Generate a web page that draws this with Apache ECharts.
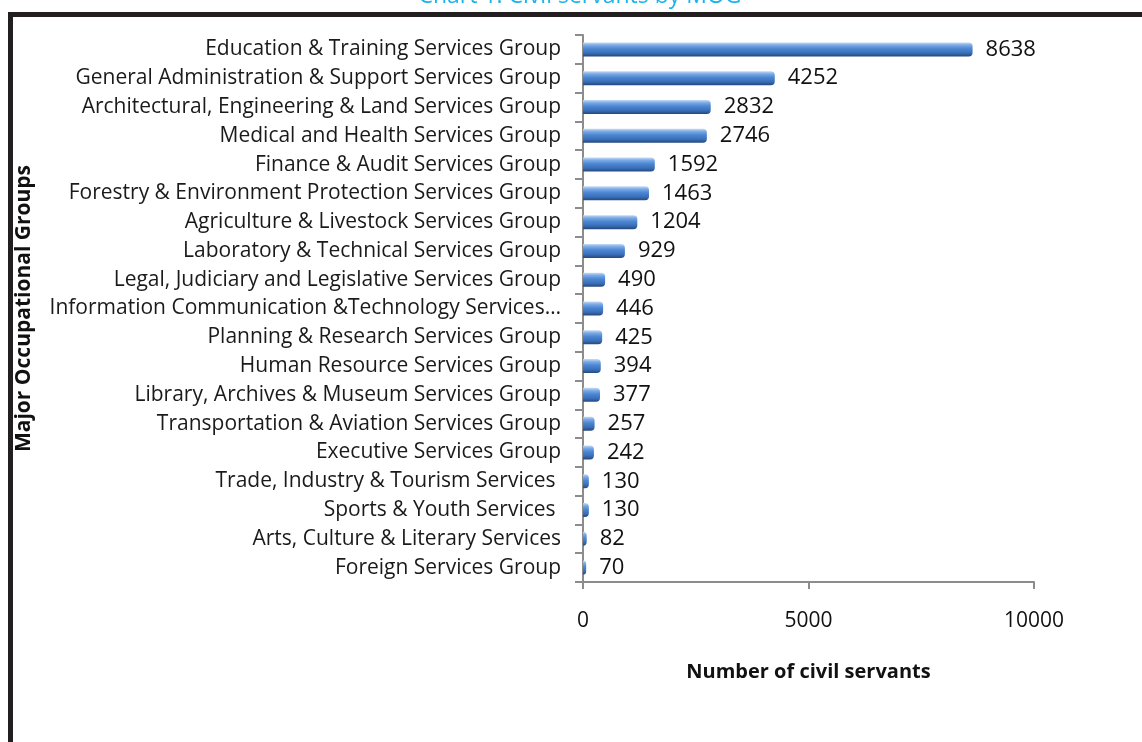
<!DOCTYPE html>
<html><head><meta charset="utf-8">
<script src="https://cdn.jsdelivr.net/npm/echarts@6/dist/echarts.min.js"></script>
<style>html,body{margin:0;padding:0;background:#fff}#c{width:1142px;height:742px}</style>
</head><body><div id="c"></div>
<script>
const categories = [
  "Education & Training Services Group",
  "General Administration & Support Services Group",
  "Architectural, Engineering & Land Services Group",
  "Medical and Health Services Group",
  "Finance & Audit Services Group",
  "Forestry & Environment Protection Services Group",
  "Agriculture & Livestock Services Group",
  "Laboratory & Technical Services Group",
  "Legal, Judiciary and Legislative Services Group",
  "Information Communication &Technology Services…",
  "Planning & Research Services Group",
  "Human Resource Services Group",
  "Library, Archives & Museum Services Group",
  "Transportation & Aviation Services Group",
  "Executive Services Group",
  "Trade, Industry & Tourism Services ",
  "Sports & Youth Services ",
  "Arts, Culture & Literary Services",
  "Foreign Services Group"
];
const values = [8638, 4252, 2832, 2746, 1592, 1463, 1204, 929, 490, 446, 425, 394, 377, 257, 242, 130, 130, 82, 70];
const xTicks = [0, 5000, 10000];
const titleText = "Chart 1: Civil servants by MOG";
const xName = "Number of civil servants";
const yName = "Major Occupational Groups";

const chart = echarts.init(document.getElementById('c'), null, {renderer: 'canvas'});
const font = "'Open Sans', 'Noto Sans', sans-serif";
chart.setOption({
  animation: false,
  backgroundColor: '#ffffff',
  title: {
    text: titleText, left: 575, top: -20, textAlign: 'center',
    textStyle: {color: '#1ab4ec', fontSize: 23, fontWeight: 'normal', fontFamily: font}
  },
  grid: {left: 583, top: 35, width: 451, height: 547, containLabel: false},
  xAxis: {
    type: 'value', min: 0, max: 10000, interval: 5000,
    name: xName, nameLocation: 'middle', nameGap: 80,
    nameTextStyle: {color: '#111', fontSize: 20, fontWeight: 'bold', fontFamily: font},
    axisLine: {show: true, lineStyle: {color: '#8c8c8c', width: 2}},
    axisTick: {show: true, inside: false, length: 7, lineStyle: {color: '#8c8c8c', width: 2}},
    axisLabel: {color: '#111', fontSize: 21, fontFamily: font, margin: 29,
      formatter: v => xTicks.includes(v) ? String(v) : ''},
    splitLine: {show: false}
  },
  yAxis: {
    type: 'category', data: categories, inverse: true,
    name: yName, nameLocation: 'middle', nameGap: 548, nameRotate: 90,
    nameTextStyle: {color: '#111', fontSize: 21, fontWeight: 'bold', fontFamily: font},
    axisLine: {show: true, lineStyle: {color: '#8c8c8c', width: 2}},
    axisTick: {show: true, length: 8, lineStyle: {color: '#8c8c8c', width: 2}},
    axisLabel: {color: '#1a1a1a', fontSize: 21, fontFamily: font, margin: 22}
  },
  series: [{
    type: 'bar', data: values, barWidth: 14,
    itemStyle: {
      borderRadius: [0, 4, 4, 0],
      color: new echarts.graphic.LinearGradient(0, 0, 0, 1, [
        {offset: 0, color: '#c6dbf5'},
        {offset: 0.2, color: '#7aa9e6'},
        {offset: 0.45, color: '#4c86d2'},
        {offset: 0.75, color: '#3a6fb8'},
        {offset: 1, color: '#24487e'}
      ])
    },
    label: {show: true, position: 'right', distance: 13, color: '#111', fontSize: 22, fontFamily: font}
  }],
  graphic: [
    {type: 'line', z: -1, shape: {x1: 8, y1: 14.5, x2: 1142, y2: 14.5}, style: {stroke: '#231f20', lineWidth: 5}},
    {type: 'line', z: -1, shape: {x1: 10.5, y1: 12, x2: 10.5, y2: 742}, style: {stroke: '#231f20', lineWidth: 5}}
  ]
});
</script></body></html>
